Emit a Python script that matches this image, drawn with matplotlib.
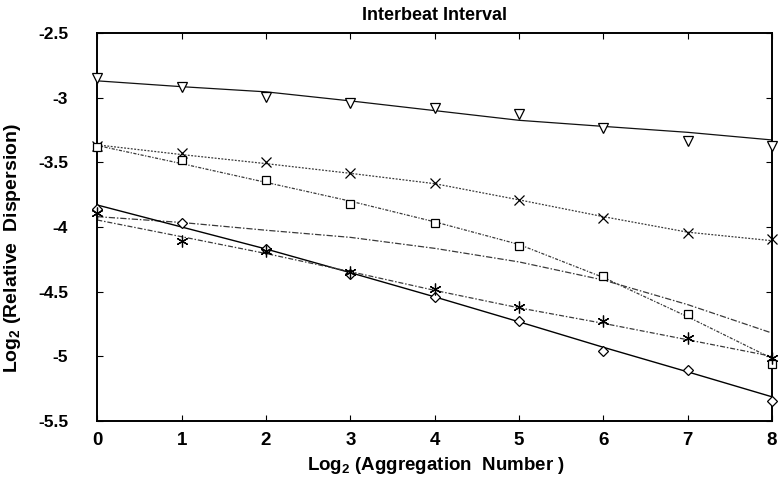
import matplotlib
matplotlib.use("Agg")
import matplotlib.pyplot as plt

plt.rcParams['font.family'] = ['Liberation Sans', 'DejaVu Sans']
plt.rcParams['font.weight'] = 'bold'
plt.rcParams['mathtext.fontset'] = 'custom'
plt.rcParams['mathtext.rm'] = 'Liberation Sans:bold'
plt.rcParams['mathtext.it'] = 'Liberation Sans:bold'
plt.rcParams['mathtext.bf'] = 'Liberation Sans:bold'

# ---- data ----
agg = [0, 1, 2, 3, 4, 5, 6, 7, 8]

tri_vals = [-2.85, -2.92, -2.995, -3.04, -3.08, -3.13, -3.232, -3.333, -3.372]
tri_fit = [-2.87, -2.915, -2.955, -3.025, -3.10, -3.175, -3.222, -3.268, -3.327]

x_vals = [-3.371, -3.428, -3.495, -3.58, -3.66, -3.794, -3.931, -4.049, -4.096]
x_fit = [-3.365, -3.44, -3.51, -3.585, -3.665, -3.79, -3.92, -4.04, -4.106]

sq_vals = [-3.378, -3.482, -3.637, -3.822, -3.972, -4.15, -4.377, -4.673, -5.062]
sq_fit = [-3.37, -3.51, -3.655, -3.80, -3.96, -4.135, -4.39, -4.694, -5.016]

extra_fit = [-3.92, -3.965, -4.025, -4.08, -4.165, -4.27, -4.41, -4.60, -4.82]

dia_vals = [-3.864, -3.969, -4.168, -4.364, -4.544, -4.727, -4.957, -5.106, -5.344]
dia_fit = [-3.83, -4.0, -4.17, -4.353, -4.54, -4.733, -4.93, -5.12, -5.313]

star_vals = [-3.89, -4.106, -4.183, -4.346, -4.48, -4.617, -4.725, -4.861, -5.016]
star_fit = [-3.946, -4.075, -4.205, -4.345, -4.49, -4.625, -4.745, -4.872, -5.0]

x_ticks = [0, 1, 2, 3, 4, 5, 6, 7, 8]
x_ticklabels = ['0', '1', '2', '3', '4', '5', '6', '7', '8']
y_ticks = [-5.5, -5, -4.5, -4, -3.5, -3, -2.5]
y_ticklabels = ['-5.5', '-5', '-4.5', '-4', '-3.5', '-3', '-2.5']

title = 'Interbeat Interval'
xlabel = r'Log$_{2}$ (Aggregation  Number )'
ylabel = r'Log$_{2}$ (Relative  Dispersion)'

# ---- figure ----
fig = plt.figure(figsize=(7.79, 4.83), dpi=100)
ax = fig.add_axes([97.3 / 779, 62 / 483, 674.7 / 779, 388 / 483])

gray = '#3a3a3a'
# fitted lines
ax.plot(agg, tri_fit, color='#111111', lw=0.9, ls='-')
ax.plot(agg, x_fit, color=gray, lw=0.9, ls=(0, (1.5, 1.2)))
ax.plot(agg, sq_fit, color=gray, lw=0.9, ls=(0, (2.5, 1.2, 1, 1.2)))
ax.plot(agg, extra_fit, color=gray, lw=0.9, ls=(0, (5, 1.5, 1.2, 1.5)))
ax.plot(agg, dia_fit, color='black', lw=1.0, ls='-')
ax.plot(agg, star_fit, color=gray, lw=0.9, ls=(0, (4, 1.5, 1.2, 1.5)))

# markers
mk = dict(ls='none', mfc='white', mec='black', mew=0.9, clip_on=False, zorder=5)
ax.plot(agg, tri_vals, marker='v', ms=7, **mk)
ax.plot(agg, x_vals, marker='x', ms=6.5, **mk)
ax.plot(agg, sq_vals, marker='s', ms=6, **mk)
ax.plot(agg, dia_vals, marker='D', ms=5, **mk)
ax.plot(agg, star_vals, marker=(6, 2, 0), ms=8.5, **mk)

ax.set_xlim(0, 8)
ax.set_ylim(-5.5, -2.5)
ax.set_xticks(x_ticks)
ax.set_xticklabels(x_ticklabels, fontsize=13.5, fontweight='bold')
ax.set_yticks(y_ticks)
ax.set_yticklabels(y_ticklabels, fontsize=12.5, fontweight='bold')
ax.tick_params(axis='both', direction='in', length=4, width=0.8,
               top=True, right=True)
ax.tick_params(axis='x', pad=8)
ax.tick_params(axis='y', pad=21)
for s in ax.spines.values():
    s.set_linewidth(1.4)
    s.set_color('black')

fig.text(435 / 779, 1 - 15 / 483, title, ha='center', va='center',
         fontsize=13, fontweight='bold')
fig.text(436 / 779, 1 - 465 / 483, xlabel, ha='center', va='center',
         fontsize=13.5, fontweight='bold')
fig.text(13 / 779, 1 - 248 / 483, ylabel, ha='center', va='center',
         rotation=90, fontsize=14, fontweight='bold')

fig.savefig('out.png', dpi=100)
